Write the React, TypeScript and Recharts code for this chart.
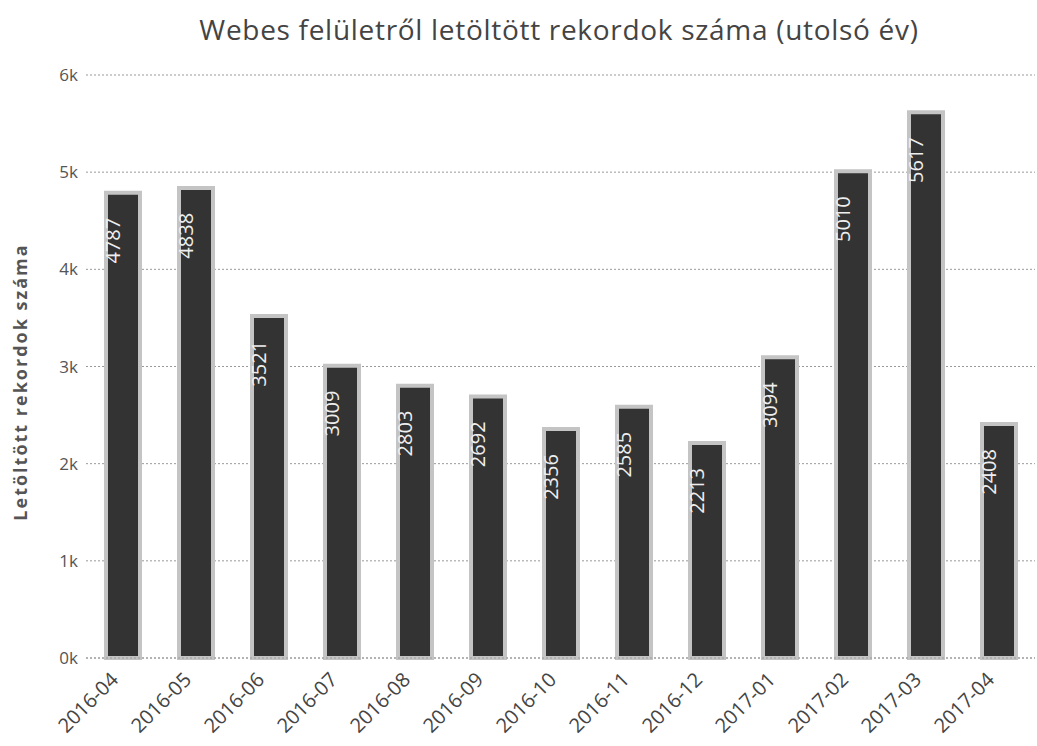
import React from 'react';
import { BarChart, Bar, XAxis, YAxis, CartesianGrid, LabelList } from 'recharts';

const months = [
  '2016-04', '2016-05', '2016-06', '2016-07', '2016-08', '2016-09', '2016-10',
  '2016-11', '2016-12', '2017-01', '2017-02', '2017-03', '2017-04',
];
const downloads = [4787, 4838, 3521, 3009, 2803, 2692, 2356, 2585, 2213, 3094, 5010, 5617, 2408];
const yTicks = [0, 1000, 2000, 3000, 4000, 5000, 6000];

const chartData = months.map((month, i) => ({ month, downloads: downloads[i] }));

const FONT = '"Open Sans", sans-serif';

const BarValue = (props: any) => {
  const { x, y, width, value } = props;
  const cx = x + width / 2 - 3;
  const ty = y + 25;
  return (
    <text
      x={cx}
      y={ty}
      transform={`rotate(-90, ${cx}, ${ty})`}
      textAnchor="end"
      fill="#eeeeee"
      fontSize={20}
      fontFamily={FONT}
    >
      {value}
    </text>
  );
};

const MonthTick = (props: any) => {
  const { x, y, payload } = props;
  return (
    <text
      x={x - 3}
      y={y + 15}
      transform={`rotate(-45, ${x - 3}, ${y + 15})`}
      textAnchor="end"
      fill="#444"
      fontSize={20}
      fontFamily={FONT}
    >
      {payload.value}
    </text>
  );
};

const App: React.FC = () => {
  return (
    <div style={{ position: 'absolute', left: 0, top: 0, width: 1037, height: 746, background: '#fff' }}>
      <div
        style={{
          position: 'absolute',
          left: 0,
          width: 1118,
          top: 10,
          textAlign: 'center',
          fontFamily: FONT,
          fontSize: 28,
          letterSpacing: 0.7,
          color: '#444',
          whiteSpace: 'nowrap',
        }}
      >
        Webes felületről letöltött rekordok száma (utolsó év)
      </div>
      <div
        style={{
          position: 'absolute',
          left: 20,
          top: 382,
          transform: 'translate(-50%, -50%) rotate(-90deg)',
          fontFamily: FONT,
          fontSize: 18,
          letterSpacing: 2,
          fontWeight: 700,
          color: '#555',
          whiteSpace: 'nowrap',
        }}
      >
        Letöltött rekordok száma
      </div>
      <BarChart
        width={1037}
        height={746}
        data={chartData}
        margin={{ top: 75, right: 2, left: 0, bottom: 0 }}
        barSize={34}
      >
        <CartesianGrid vertical={false} stroke="#999" strokeDasharray="2 2" />
        <XAxis
          dataKey="month"
          height={88}
          interval={0}
          tick={<MonthTick />}
          tickLine={false}
          axisLine={{ stroke: '#999', strokeDasharray: '2 2' }}
        />
        <YAxis
          width={86}
          domain={[0, 6000]}
          ticks={yTicks}
          interval={0}
          tickFormatter={(v: number) => `${v / 1000}k`}
          axisLine={false}
          tickLine={false}
          tick={{ fill: '#555', fontSize: 17, fontFamily: FONT }}
        />
        <Bar dataKey="downloads" fill="#333" stroke="#c4c4c4" strokeWidth={4} isAnimationActive={false}>
          <LabelList dataKey="downloads" content={<BarValue />} />
        </Bar>
      </BarChart>
    </div>
  );
};

export default App;
